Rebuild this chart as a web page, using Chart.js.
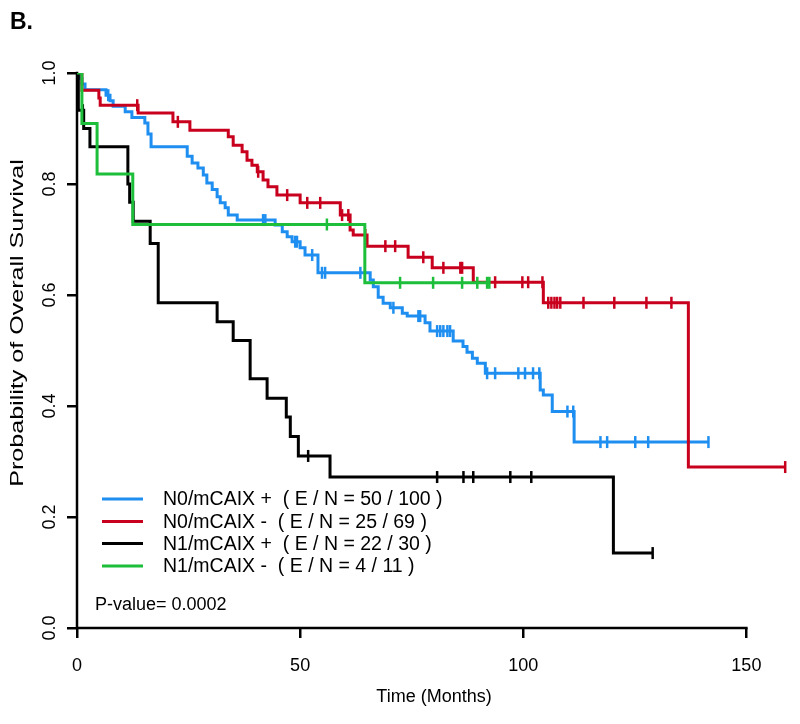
<!DOCTYPE html>
<html>
<head>
<meta charset="utf-8">
<script src="https://cdn.jsdelivr.net/npm/chart.js@4.4.1/dist/chart.umd.min.js"></script>
<style>
  html, body { margin: 0; padding: 0; background: #fff; }
  #wrap { width: 800px; height: 724px; }
</style>
</head>
<body>
<div id="wrap"><canvas id="km"></canvas></div>
<script>
// tick values
const xTicks = [0, 50, 100, 150];
const yTicks = [0, 0.2, 0.4, 0.6, 0.8, 1.0];

// groups / legend text
const groupNames = ['N0/mCAIX +', 'N0/mCAIX -', 'N1/mCAIX +', 'N1/mCAIX -'];
const groupEN = ['50 / 100', '25 / 69', '22 / 30', '4 / 11'];
const groupColors = ['#1E8FF0', '#C8001E', '#000000', '#1DBE3A'];
const pValueText = 'P-value= 0.0002';
const yTitle = 'Probability of Overall Survival';

// N0/mCAIX + : event times (months) and survival after each step
const blueTimes = [0, 0.7, 1.1, 1.8, 6.5, 7.4, 8.1, 10.8, 12.3, 15.2, 15.9, 16.6, 24.7, 25.8, 27.1, 28.3, 29.1, 30.3, 31.4, 32.1, 33.2, 33.9, 35.9, 44.4, 46.0, 47.1, 48.2, 50.0, 51.1, 54.0, 65.7, 66.4, 67.5, 68.6, 70.2, 72.9, 74.0, 78.0, 79.1, 84.3, 86.5, 87.4, 88.6, 89.7, 91.5, 103.8, 104.5, 106.5, 111.4];
const blueSurv = [1, 0.99, 0.98, 0.97, 0.96, 0.95, 0.94, 0.93, 0.92, 0.91, 0.89, 0.867, 0.85, 0.838, 0.829, 0.816, 0.802, 0.79, 0.777, 0.766, 0.757, 0.744, 0.735, 0.726, 0.714, 0.705, 0.696, 0.685, 0.672, 0.64, 0.627, 0.615, 0.596, 0.585, 0.577, 0.567, 0.562, 0.55, 0.535, 0.517, 0.507, 0.497, 0.486, 0.477, 0.459, 0.429, 0.42, 0.39, 0.335];
const blueCensor = [7.0, 41.7, 42.2, 48.9, 49.3, 52.7, 54.9, 55.6, 63.5, 70.9, 76.5, 76.9, 80.7, 81.4, 82.1, 83.0, 83.6, 91.9, 93.7, 98.9, 100.4, 102.2, 103.6, 109.9, 111.2, 117.3, 118.8, 125.1, 128.0, 141.5];

// N0/mCAIX -
const redTimes = [0, 1.1, 4.9, 5.2, 13.7, 21.5, 25.3, 33.9, 35.0, 37.0, 38.1, 39.2, 40.4, 41.7, 42.8, 44.8, 50.0, 59.0, 61.2, 61.9, 65.0, 74.2, 79.6, 88.8, 104.5, 137.0];
const redSurv = [1, 0.969, 0.955, 0.942, 0.928, 0.912, 0.897, 0.885, 0.87, 0.858, 0.843, 0.834, 0.822, 0.807, 0.795, 0.78, 0.766, 0.744, 0.717, 0.708, 0.688, 0.668, 0.649, 0.623, 0.586, 0.29];
const redCensor = [13.5, 22.6, 40.6, 47.1, 51.6, 54.5, 59.4, 60.8, 64.6, 69.1, 71.3, 77.6, 82.1, 85.9, 86.3, 93.7, 99.8, 101.1, 104.3, 105.6, 106.3, 107.0, 107.6, 108.3, 113.5, 120.4, 127.6, 133.2, 158.7];

// N1/mCAIX +
const blackTimes = [0, 0.3, 1.5, 2.9, 11.4, 11.8, 12.6, 16.4, 18.2, 31.4, 35.0, 38.8, 42.6, 46.9, 47.8, 49.6, 56.7, 120.2];
const blackSurv = [1, 0.933, 0.9, 0.867, 0.8, 0.767, 0.733, 0.693, 0.586, 0.552, 0.518, 0.449, 0.414, 0.38, 0.345, 0.31, 0.272, 0.135];
const blackCensor = [1.3, 51.8, 80.7, 86.6, 88.8, 97.1, 101.8, 129.0];

// N1/mCAIX -
const greenTimes = [0, 1.1, 4.5, 12.5, 64.5];
const greenSurv = [1, 0.909, 0.818, 0.727, 0.622];
const greenCensor = [56.0, 72.4, 79.8, 86.3, 89.7, 91.9, 92.4];

const allTimes = [blueTimes, redTimes, blackTimes, greenTimes];
const allSurv = [blueSurv, redSurv, blackSurv, greenSurv];
const allCensor = [blueCensor, redCensor, blackCensor, greenCensor];

const FONT = "'Liberation Sans', Arial, sans-serif";

function survAt(times, surv, t) {
    let s = surv[0];
    for (let i = 0; i < times.length; i++) {
        if (times[i] <= t) s = surv[i];
    }
    return s;
}

const datasets = [];
allTimes.forEach((times, g) => {
    const surv = allSurv[g];
    const censor = allCensor[g];
    const pts = times.map((t, i) => ({ x: t, y: surv[i] }));
    // carry the curve on to the last follow-up time
    const lastT = Math.max(censor[censor.length - 1], times[times.length - 1]);
    pts.push({ x: lastT, y: survAt(times, surv, lastT) });
    datasets.push({
        label: groupNames[g],
        data: pts,
        stepped: 'before',
        borderColor: groupColors[g],
        borderWidth: 3,
        pointRadius: 0,
        fill: false,
        order: 4 - g
    });
    datasets.push({
        label: groupNames[g] + ' censored',
        data: censor.map(t => ({ x: t, y: survAt(times, surv, t) })),
        showLine: false,
        pointStyle: 'line',
        rotation: 90,
        pointRadius: 6,
        pointBorderWidth: 2.5,
        pointBorderColor: groupColors[g],
        borderColor: groupColors[g],
        order: 4 - g
    });
});

// axis lines, legend, p-value, y title and panel letter
const annotate = {
    id: 'annotate',
    beforeDatasetsDraw(chart) {
        const { ctx, scales: { x, y } } = chart;
        ctx.save();
        ctx.strokeStyle = '#000';
        ctx.lineWidth = 2.5;
        ctx.beginPath();
        ctx.moveTo(x.getPixelForValue(xTicks[0]) - 1.25, y.getPixelForValue(0));
        ctx.lineTo(x.getPixelForValue(xTicks[xTicks.length - 1]) + 1.25, y.getPixelForValue(0));
        ctx.moveTo(x.getPixelForValue(0), y.getPixelForValue(0));
        ctx.lineTo(x.getPixelForValue(0), y.getPixelForValue(1) - 1.25);
        ctx.stroke();
        ctx.restore();
    },
    afterDraw(chart) {
        const { ctx } = chart;
        ctx.save();
        ctx.fillStyle = '#000';
        ctx.font = 'bold 23px ' + FONT;
        ctx.textBaseline = 'alphabetic';
        ctx.fillText('B.', 10, 29);

        // y title, stretched along its length like the source figure
        ctx.save();
        ctx.translate(18, 323);
        ctx.rotate(-Math.PI / 2);
        ctx.scale(1.32, 1);
        ctx.font = '19px ' + FONT;
        ctx.textAlign = 'center';
        ctx.textBaseline = 'middle';
        ctx.fillText(yTitle, 0, 0);
        ctx.restore();

        ctx.font = '19.5px ' + FONT;
        ctx.textBaseline = 'middle';
        const rows = [499, 521.5, 543.5, 566];
        groupNames.forEach((name, i) => {
            ctx.strokeStyle = groupColors[i];
            ctx.lineWidth = 3;
            ctx.beginPath();
            ctx.moveTo(102, rows[i]);
            ctx.lineTo(143, rows[i]);
            ctx.stroke();
            ctx.fillText(name + '  ( E / N = ' + groupEN[i] + ' )', 163, rows[i] + 1);
        });

        ctx.font = '18px ' + FONT;
        ctx.fillText(pValueText, 95, 605);
        ctx.restore();
    }
};

new Chart(document.getElementById('km'), {
    type: 'line',
    data: { datasets: datasets },
    options: {
        responsive: true,
        maintainAspectRatio: false,
        animation: false,
        layout: { padding: { top: 73, right: 9, left: 0, bottom: 0 } },
        plugins: {
            legend: { display: false },
            tooltip: { enabled: false }
        },
        scales: {
            x: {
                type: 'linear',
                min: 0,
                max: 160,
                afterBuildTicks: s => { s.ticks = xTicks.map(v => ({ value: v })); },
                afterFit: s => { s.height = 96; },
                grid: { drawOnChartArea: false, drawTicks: true, tickLength: 10, color: '#000', lineWidth: 2.5 },
                border: { display: false },
                ticks: { color: '#000', font: { size: 18, family: FONT }, padding: 17, maxRotation: 0, autoSkip: false },
                title: { display: true, text: 'Time (Months)', color: '#000', font: { size: 18, family: FONT }, padding: { top: 0, bottom: 16 } }
            },
            y: {
                min: 0,
                max: 1,
                afterBuildTicks: s => { s.ticks = yTicks.map(v => ({ value: v })); },
                afterFit: s => { s.width = 77; },
                grid: { drawOnChartArea: false, drawTicks: true, tickLength: 10, color: '#000', lineWidth: 2.5 },
                border: { display: false },
                ticks: { color: '#000', font: { size: 18, family: FONT }, padding: 4, minRotation: 90, maxRotation: 90, crossAlign: 'center', callback: v => v.toFixed(1) }
            }
        }
    },
    plugins: [annotate]
});
</script>
</body>
</html>
